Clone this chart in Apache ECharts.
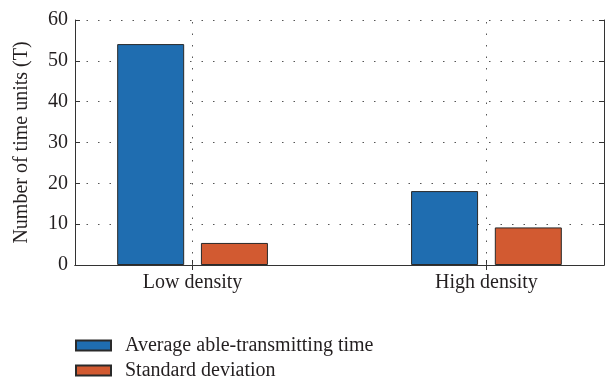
<!DOCTYPE html>
<html>
<head>
<meta charset="utf-8">
<script src="https://cdn.jsdelivr.net/npm/echarts@6/dist/echarts.min.js"></script>
<style>
  html, body { margin: 0; padding: 0; background: #fff; }
  #chart { width: 606px; height: 381px; }
</style>
</head>
<body>
<div id="chart"></div>
<script>
const categories = ["Low density", "High density"];
const categoryPos = [1, 2];
const avgTime = [54.1, 18.1];
const stdDev = [5.4, 9.2];
const yTicks = [0, 10, 20, 30, 40, 50, 60];

const FONT = "Liberation Serif";
const AXIS = "#333";
const TEXT = "#231f20";
const FS = 20;

const chart = echarts.init(document.getElementById("chart"), null, { renderer: "canvas" });

const xBase = {
  type: "value",
  min: 0.6,
  max: 2.4,
  axisLine: { show: true, lineStyle: { color: AXIS, width: 1 } },
  splitLine: { show: false },
};

const option = {
  animation: false,
  grid: { left: 75, right: 2, top: 20, bottom: 116, containLabel: false },
  legend: {
    orient: "vertical",
    left: 75,
    top: 335,
    padding: 0,
    itemWidth: 35,
    itemHeight: 10,
    itemGap: 4,
    icon: "rect",
    textStyle: { fontFamily: FONT, fontSize: FS, color: TEXT, lineHeight: 21, padding: [0, 0, 0, 9] },
    data: ["Average able-transmitting time", "Standard deviation"],
  },
  xAxis: [
    {
      ...xBase,
      position: "bottom",
      axisTick: { show: true, inside: true, length: 5, customValues: categoryPos, lineStyle: { color: AXIS } },
      axisLabel: {
        customValues: categoryPos,
        formatter: (v) => categories[categoryPos.indexOf(Math.round(v))] || "",
        fontFamily: FONT,
        fontSize: FS,
        color: TEXT,
        margin: 8,
      },
    },
    {
      ...xBase,
      position: "top",
      axisTick: { show: true, inside: true, length: 5, customValues: categoryPos, lineStyle: { color: AXIS } },
      axisLabel: { show: false },
    },
  ],
  yAxis: [
    {
      type: "value",
      min: 0,
      max: 60,
      interval: 10,
      name: "Number of time units (T)",
      nameLocation: "middle",
      nameGap: 43,
      nameTextStyle: { fontFamily: FONT, fontSize: FS, color: TEXT },
      axisLine: { show: true, lineStyle: { color: AXIS } },
      axisTick: { show: true, inside: true, length: 5, lineStyle: { color: AXIS } },
      axisLabel: {
        fontFamily: FONT,
        fontSize: FS,
        color: TEXT,
        margin: 7,
        formatter: (v) => (yTicks.includes(v) ? String(v) : ""),
      },
      splitLine: { show: true, lineStyle: { color: "#555", width: 1, type: [1.5, 10] } },
    },
    {
      type: "value",
      min: 0,
      max: 60,
      interval: 10,
      position: "right",
      axisLine: { show: true, lineStyle: { color: AXIS } },
      axisTick: { show: true, inside: true, length: 5, lineStyle: { color: AXIS } },
      axisLabel: { show: false },
      splitLine: { show: false },
    },
  ],
  series: [
    {
      // carrier for the vertical dotted grid lines at the category positions
      name: "grid",
      type: "line",
      xAxisIndex: 0,
      yAxisIndex: 0,
      data: [],
      markLine: {
        silent: true,
        symbol: "none",
        label: { show: false },
        lineStyle: { color: "#555", width: 1, type: [1.5, 10] },
        data: categoryPos.map((x) => ({ xAxis: x })),
      },
      z: 1,
    },
    {
      name: "Average able-transmitting time",
      type: "bar",
      xAxisIndex: 0,
      yAxisIndex: 0,
      barWidth: 67,
      barGap: "25%",
      data: categoryPos.map((x, i) => [x, avgTime[i]]),
      itemStyle: { color: "#1f6db0", borderColor: "#2a2a2a", borderWidth: 1 },
      z: 3,
    },
    {
      name: "Standard deviation",
      type: "bar",
      xAxisIndex: 0,
      yAxisIndex: 0,
      barWidth: 67,
      barGap: "25%",
      data: categoryPos.map((x, i) => [x, stdDev[i]]),
      itemStyle: { color: "#d25a31", borderColor: "#2a2a2a", borderWidth: 1 },
      z: 3,
    },
  ],
};

chart.setOption(option);
</script>
</body>
</html>
